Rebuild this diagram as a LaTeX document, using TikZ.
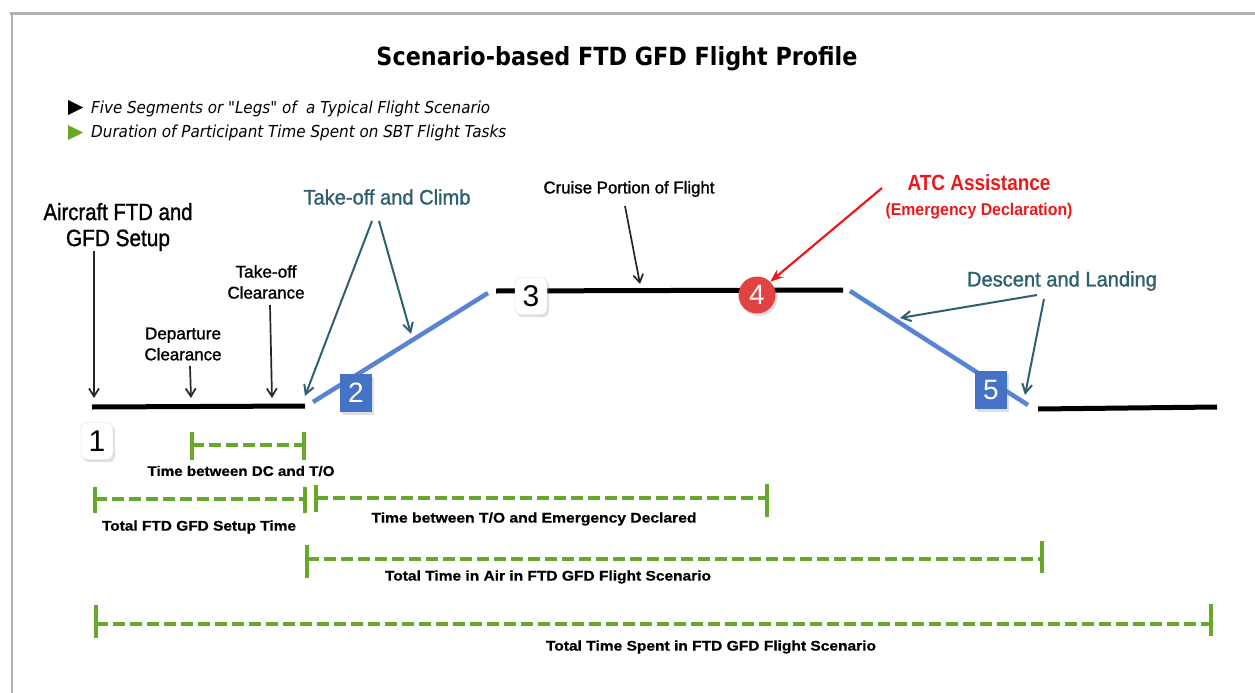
\documentclass[tikz,border=0pt]{standalone}
\usepackage{fontspec}
\usepackage{graphicx}
\setmainfont{Liberation Sans}
\newfontfamily\headfont{DejaVu Sans}
\newfontfamily\medfont[FakeBold=1.3]{Liberation Sans}
\newfontfamily\heavyfont[FakeBold=0.6]{Liberation Sans Bold}
\usetikzlibrary{arrows.meta,shadows}

% stretch or squeeze a text to a given width, keeping its height
\newcommand\fitw[2]{\resizebox{#1}{\height}{#2}}

\definecolor{tealtxt}{RGB}{46,96,110}
\definecolor{atcred}{RGB}{235,25,25}
\definecolor{pathblue}{RGB}{88,132,212}
\definecolor{boxblue}{RGB}{68,114,196}
\definecolor{dotred}{RGB}{226,66,66}
\definecolor{dashgreen}{RGB}{104,168,40}
\definecolor{framegray}{RGB}{178,178,178}

\tikzset{
  lbl/.style={inner sep=0pt, align=center},
  ground/.style={line width=5pt, draw=black},
  airpath/.style={line width=4.5pt, draw=pathblue},
  callout/.style={line width=1.7pt, draw=black!85, -{Straight Barb[length=8pt,width=10pt]}},
  tealcallout/.style={line width=2pt, draw=tealtxt, -{Straight Barb[length=9pt,width=10pt]}},
  redcallout/.style={line width=2.2pt, draw=atcred, -{Stealth[length=13pt,width=10pt]}},
  softshadow/.style={drop shadow={shadow xshift=2pt, shadow yshift=-2.5pt, opacity=0.25}},
  whitetag/.style={draw=black!15, fill=white, rounded corners=6pt, minimum width=32pt,
    minimum height=37pt, inner sep=0pt, softshadow, font=\fontsize{30}{30}\selectfont},
  bluetag/.style={fill=boxblue, text=white, minimum width=32pt, minimum height=38pt,
    inner sep=0pt, softshadow, font=\fontsize{28}{28}\selectfont},
  span/.style={line width=4pt, draw=dashgreen, dash pattern=on 12pt off 5pt},
  spanend/.style={line width=3.5pt, draw=dashgreen},
  spanlbl/.style={lbl, font=\heavyfont\fontsize{14}{16}\selectfont}
}

\begin{document}
\begin{tikzpicture}[x=1pt, y=-1pt]
\useasboundingbox (0,0) rectangle (1255,693);

% page frame
\draw[framegray, line width=3pt] (10,14) -- (1255,14);
\draw[framegray, line width=2pt] (12,14) -- (12,693);

% title
\node[lbl, font=\headfont\bfseries\fontsize{25}{28}\selectfont] (title) at (617,59)
  {\fitw{481pt}{Scenario-based FTD GFD Flight Profile}};

% legend
\fill[black] (68,100) -- (83,107.5) -- (68,115) -- cycle;
\fill[dashgreen] (68,125) -- (83,132.5) -- (68,140) -- cycle;
\node[lbl, anchor=west, font=\headfont\itshape\fontsize{16.5}{18}\selectfont] (leg1) at (91,109)
  {\fitw{399pt}{Five Segments or "Legs" of~ a Typical Flight Scenario}};
\node[lbl, anchor=west, font=\headfont\itshape\fontsize{16.5}{18}\selectfont] (leg2) at (91,133)
  {\fitw{415pt}{Duration of Participant Time Spent on SBT Flight Tasks}};

% flight path points
\coordinate (g1a) at (92,407);   \coordinate (g1b) at (305,406);
\coordinate (c2a) at (313,402);  \coordinate (c2b) at (488,293);
\coordinate (r3a) at (496,291);  \coordinate (r3b) at (843,290);
\coordinate (d5a) at (850,291);  \coordinate (d5b) at (1028,405);
\coordinate (g6a) at (1038,409); \coordinate (g6b) at (1217,407);

\draw[ground] (g1a) -- (g1b);
\draw[airpath] (c2a) -- (c2b);
\draw[ground] (r3a) -- (r3b);
\draw[airpath] (d5a) -- (d5b);
\draw[ground] (g6a) -- (g6b);

% leg markers
\node[whitetag] (leg1tag) at (97,441) {1};
\node[bluetag] (leg2tag) at (356,393) {2};
\node[whitetag] (leg3tag) at (531,296) {3};
\node[circle, fill=dotred, text=white, minimum size=37pt, inner sep=0pt, softshadow,
  font=\fontsize{28}{28}\selectfont] (leg4tag) at (757,295) {4};
\node[bluetag] (leg5tag) at (991,390) {5};

% labels of the ground segment
\node[lbl, font=\medfont\fontsize{23.5}{27}\selectfont] (setup) at (118,227)
  {\fitw{149pt}{Aircraft FTD and}\\[-1pt]\fitw{104pt}{GFD Setup}};
\node[lbl, font=\medfont\fontsize{17}{21}\selectfont] (depclr) at (183,344)
  {\fitw{76pt}{Departure}\\\fitw{77pt}{Clearance}};
\node[lbl, font=\medfont\fontsize{17}{21}\selectfont] (toclr) at (266,282)
  {\fitw{61pt}{Take-off}\\\fitw{77pt}{Clearance}};
\coordinate (setupTip) at (94,398);
\coordinate (depTip) at (191,398);
\coordinate (toTip) at (272,398);
\draw[callout] (94,251) -- (setupTip);
\draw[callout] (190,366) -- (depTip);
\draw[callout] (270,305) -- (toTip);

% take-off and climb
\node[lbl, text=tealtxt, font=\medfont\fontsize{21}{24}\selectfont] (climb) at (387,197)
  {\fitw{167pt}{Take-off and Climb}};
\coordinate (climbTipA) at (305,396);
\coordinate (climbTipB) at (411,334);
\draw[tealcallout] (372,221) -- (climbTipA);
\draw[tealcallout] (379,221) -- (climbTipB);

% cruise
\node[lbl, font=\medfont\fontsize{17}{20}\selectfont] (cruise) at (629,189)
  {\fitw{171pt}{Cruise Portion of Flight}};
\coordinate (cruiseTip) at (640,284);
\draw[callout] (625,206) -- (cruiseTip);

% ATC assistance
\node[lbl, text=atcred, font=\bfseries\fontsize{22}{24}\selectfont] (atc) at (979,183)
  {\fitw{143pt}{ATC Assistance}};
\node[lbl, text=atcred, font=\bfseries\fontsize{17}{20}\selectfont] (emerg) at (979,211)
  {\fitw{187pt}{(Emergency Declaration)}};
\draw[redcallout] (882,188) -- (leg4tag.north east);

% descent and landing
\node[lbl, text=tealtxt, font=\medfont\fontsize{21}{24}\selectfont] (descent) at (1062,281)
  {\fitw{190pt}{Descent and Landing}};
\coordinate (descTipA) at (900,318);
\coordinate (descTipB) at (1025,395);
\draw[tealcallout] (1037,295) -- (descTipA);
\draw[tealcallout] (1044,299) -- (descTipB);

% time spans
% DC to take-off
\coordinate (s1a) at (192,445); \coordinate (s1b) at (304,445);
\draw[span] (s1a) -- (s1b);
\draw[spanend] (192,432) -- (192,460);
\draw[spanend] (304,432) -- (304,460);
\node[spanlbl] (s1lbl) at (241,471) {\fitw{187pt}{Time between DC and T/O}};

% setup time
\coordinate (s2a) at (95,499); \coordinate (s2b) at (305,499);
\draw[span] (s2a) -- (s2b);
\draw[spanend] (95,487) -- (95,513);
\draw[spanend] (305,487) -- (305,513);
\node[spanlbl] (s2lbl) at (199,527) {\fitw{194pt}{Total FTD GFD Setup Time}};

% take-off to emergency
\coordinate (s3a) at (316,498); \coordinate (s3b) at (767,498);
\draw[span] (s3a) -- (s3b);
\draw[spanend] (316,485) -- (316,512);
\draw[spanend] (767,484) -- (767,517);
\node[spanlbl] (s3lbl) at (534,519) {\fitw{325pt}{Time between T/O and Emergency Declared}};

% time in air
\coordinate (s4a) at (307,559); \coordinate (s4b) at (1042,559);
\draw[span] (s4a) -- (s4b);
\draw[spanend] (307,545) -- (307,578);
\draw[spanend] (1042,541) -- (1042,573);
\node[spanlbl] (s4lbl) at (548,577) {\fitw{326pt}{Total Time in Air in FTD GFD Flight Scenario}};

% whole scenario
\coordinate (s5a) at (96,624); \coordinate (s5b) at (1211,624);
\draw[span] (s5a) -- (s5b);
\draw[spanend] (96,605) -- (96,638);
\draw[spanend] (1211,604) -- (1211,636);
\node[spanlbl] (s5lbl) at (711,647) {\fitw{330pt}{Total Time Spent in FTD GFD Flight Scenario}};
\end{tikzpicture}
\end{document}
